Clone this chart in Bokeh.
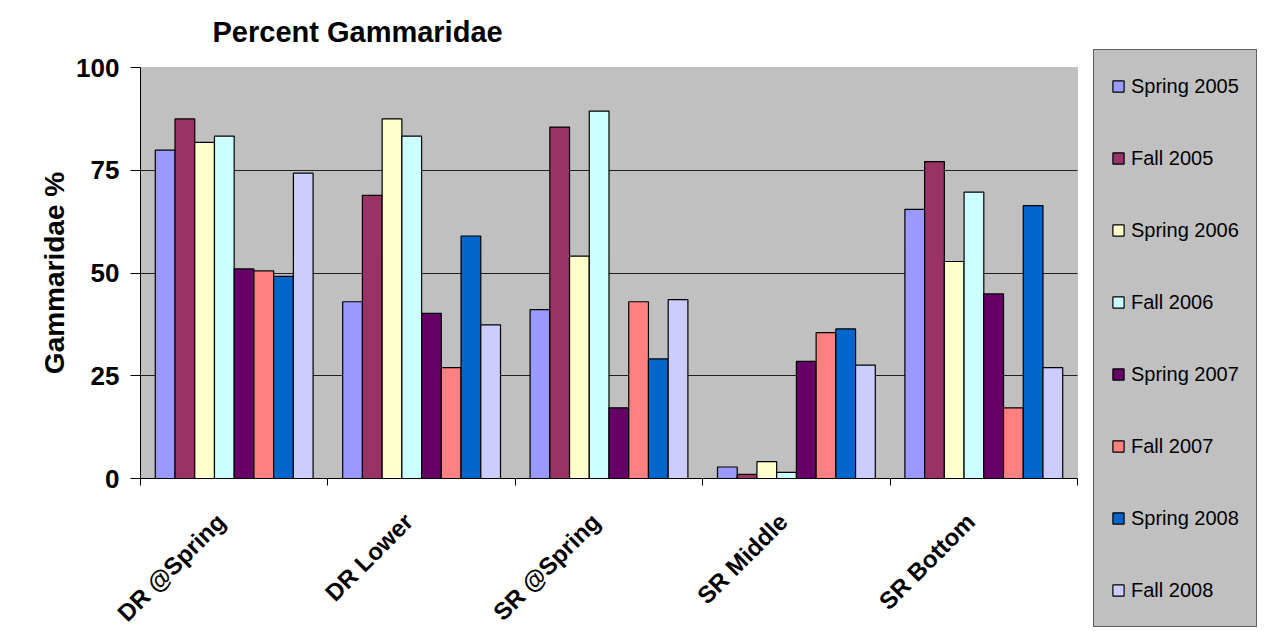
import math
from bokeh.plotting import figure
from bokeh.models import (ColumnDataSource, Range1d, FixedTicker, Legend, LegendItem,
                          BoxAnnotation, Label)
from bokeh.transform import dodge
from bokeh.embed import file_html
from bokeh.resources import INLINE

# ---- data ----
sites = ["DR @Spring", "DR Lower", "SR @Spring", "SR Middle", "SR Bottom"]
series_names = ["Spring 2005", "Fall 2005", "Spring 2006", "Fall 2006",
                "Spring 2007", "Fall 2007", "Spring 2008", "Fall 2008"]
spring_2005 = [79.9, 43.0, 41.1, 2.8, 65.5]
fall_2005 = [87.5, 68.9, 85.5, 1.0, 77.1]
spring_2006 = [81.8, 87.5, 54.1, 4.1, 52.8]
fall_2006 = [83.3, 83.3, 89.4, 1.5, 69.7]
spring_2007 = [51.0, 40.2, 17.2, 28.5, 44.9]
fall_2007 = [50.5, 27.0, 43.0, 35.5, 17.2]
spring_2008 = [49.2, 59.0, 29.1, 36.4, 66.4]
fall_2008 = [74.3, 37.4, 43.5, 27.6, 27.0]
y_ticks = [0, 25, 50, 75, 100]
y_max = 100
title_text = "Percent Gammaridae"

series_values = [spring_2005, fall_2005, spring_2006, fall_2006,
                 spring_2007, fall_2007, spring_2008, fall_2008]
colors = ["#9999FF", "#993366", "#FFFFCC", "#CCFFFF",
          "#660066", "#FF8080", "#0066CC", "#CCCCFF"]

FONT = "Liberation Sans"

# ---- layout constants (pixels) ----
W, H = 1265, 628
PL, PR, PT, PB = 140, 1077, 67, 478      # plot area edges
ncat = len(sites)
ux = (PR - PL) / ncat
uy = (PB - PT) / y_max

centers = [i + 0.5 for i in range(ncat)]
label_pos = [c - 0.07 for c in centers]
data = {"xc": centers}
for name, vals in zip(series_names, series_values):
    data[name] = vals
src = ColumnDataSource(data)

p = figure(width=W, height=H, output_backend="svg", toolbar_location=None, title=None,
           x_range=Range1d(-PL / ux, ncat + (W - PR) / ux),
           y_range=Range1d(-(H - PB) / uy, y_max + PT / uy),
           min_border_left=0, min_border_top=0, min_border_right=0,
           min_border_bottom=0)

p.background_fill_color = "white"
p.border_fill_color = "white"
p.outline_line_color = None

plot_area = BoxAnnotation(left=0, right=ncat, bottom=0, top=y_max,
                          fill_color="#C0C0C0", fill_alpha=1,
                          line_color="#808080", line_width=1, level="image")
p.add_layout(plot_area)

# grid lines (only across the plot area)
grid_ticks = [t for t in y_ticks if 0 < t < y_max]
p.xgrid.visible = False
yg = p.ygrid[0]
if "cross_bounds" in yg.properties():
    yg.ticker = FixedTicker(ticks=grid_ticks)
    yg.cross_bounds = (0, ncat)
    yg.grid_line_color = "#202020"
    yg.grid_line_width = 1
else:
    yg.visible = False
    p.segment(x0=0, x1=ncat, y0=grid_ticks, y1=grid_ticks,
              line_color="#202020", line_width=1, level="underlay")

bw = 1 / 9.5
renderers = []
n = len(series_names)
for j, (name, col) in enumerate(zip(series_names, colors)):
    r = p.vbar(x=dodge("xc", (j - (n - 1) / 2) * bw, range=p.x_range), top=name,
               width=bw, source=src, fill_color=col, line_color="black", line_width=1.2)
    renderers.append(r)

# title
p.add_layout(Label(x=(212 - PL) / ux, y=(PB - 31) / uy, text=title_text,
                   text_font=FONT, text_font_size="29px", text_font_style="bold",
                   text_color="black", text_baseline="alphabetic", text_align="left"))

# x axis
xa = p.xaxis[0]
xa.fixed_location = 0
xa.bounds = (0, ncat)
xa.ticker = FixedTicker(ticks=label_pos, minor_ticks=list(range(ncat + 1)))
xa.major_label_overrides = {c: s for c, s in zip(label_pos, sites)}
xa.major_label_orientation = math.pi / 4
xa.major_label_text_font = FONT
xa.major_label_text_font_size = "24px"
xa.major_label_text_font_style = "bold"
xa.major_label_text_color = "black"
xa.major_tick_line_color = None
xa.minor_tick_out = 7
xa.minor_tick_in = 0
xa.minor_tick_line_color = "black"
xa.axis_line_color = "black"
xa.major_label_standoff = 32

# y axis
ya = p.yaxis[0]
ya.fixed_location = 0
ya.bounds = (0, y_max)
ya.ticker = FixedTicker(ticks=y_ticks)
ya.axis_label = "Gammaridae %"
ya.axis_label_text_font = FONT
ya.axis_label_text_font_size = "28px"
ya.axis_label_text_font_style = "bold"
ya.axis_label_text_color = "black"
ya.axis_label_standoff = 3
ya.major_label_text_font = FONT
ya.major_label_text_font_size = "26px"
ya.major_label_text_font_style = "bold"
ya.major_label_text_color = "black"
ya.major_tick_out = 10
ya.major_tick_in = 0
ya.minor_tick_line_color = None
ya.major_tick_line_color = "black"
ya.axis_line_color = "black"
ya.major_label_standoff = 11

# legend
items = [LegendItem(label=name, renderers=[r]) for name, r in zip(series_names, renderers)]
legend = Legend(items=items, location=(1093, 1))
legend.label_text_font = FONT
legend.label_text_font_size = "20px"
legend.label_text_color = "black"
legend.glyph_width = 14
legend.glyph_height = 14
legend.label_height = 38
legend.label_standoff = 6
legend.padding = 17
legend.spacing = 34
legend.margin = 0
legend.background_fill_color = "#C0C0C0"
legend.background_fill_alpha = 1
legend.border_line_color = "black"
legend.border_line_width = 1
p.add_layout(legend, "center")

open("out.html", "w").write(file_html(p, INLINE))
